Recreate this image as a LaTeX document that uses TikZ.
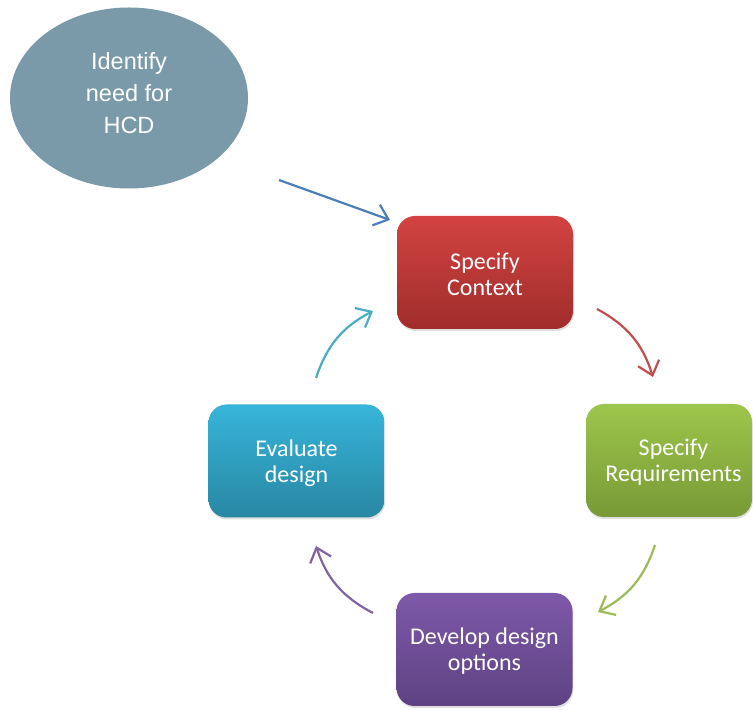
\documentclass[tikz,border=0pt]{standalone}
\usepackage{fontspec}
\setmainfont{Carlito}
\newfontfamily\arialfont{Liberation Sans}
\usetikzlibrary{arrows.meta,shadows,shapes.geometric}
\definecolor{ellc}{HTML}{7A9AAA}
\definecolor{redT}{HTML}{D24341}
\definecolor{redB}{HTML}{A02D2B}
\definecolor{grnT}{HTML}{9EC64B}
\definecolor{grnB}{HTML}{789936}
\definecolor{purT}{HTML}{7E59A9}
\definecolor{purB}{HTML}{5E4283}
\definecolor{cyaT}{HTML}{37B5DA}
\definecolor{cyaB}{HTML}{2887A3}
\definecolor{arBlue}{HTML}{4A7EBB}
\definecolor{arRed}{HTML}{C0504D}
\definecolor{arGrn}{HTML}{9BBB59}
\definecolor{arPur}{HTML}{8064A2}
\definecolor{arCya}{HTML}{4BACC6}
\tikzset{
  stepbox/.style={rounded corners=18pt, minimum height=113pt, text=white, align=center,
    font=\fontsize{24}{26}\selectfont, inner sep=0pt,
    drop shadow={opacity=0.25, shadow xshift=0.8pt, shadow yshift=-2pt}},
  boxtext/.style={text=white, align=center, font=\fontsize{24}{26}\selectfont, yshift=-2pt},
  flow/.style={line width=2.2pt, -{Straight Barb[length=13pt,width=22pt,line width=2.2pt]}}
}
\begin{document}
\begin{tikzpicture}[x=1pt,y=1pt]
\useasboundingbox (0,0) rectangle (753,710);
\node[ellipse, fill=ellc, minimum width=238pt, minimum height=181pt, inner sep=0pt,
  label={[text=white, align=center, font=\arialfont\fontsize{23.5}{32}\selectfont, yshift=5pt]center:Identify\\need for\\HCD}]
  (need) at (129,612) {};
\node[stepbox, minimum width=176pt, top color=redT, bottom color=redB,
  label={[boxtext]center:Specify\\Context}] (sc) at (485,437.5) {};
\node[stepbox, minimum width=166pt, top color=grnT, bottom color=grnB,
  label={[boxtext, xshift=4.5pt]center:Specify\\Requirements}] (sr) at (669,249.5) {};
\node[stepbox, minimum width=176pt, top color=purT, bottom color=purB,
  label={[boxtext]center:Develop design\\options}] (dd) at (484.5,60.5) {};
\node[stepbox, minimum width=176pt, top color=cyaT, bottom color=cyaB,
  label={[boxtext]center:Evaluate\\design}] (ed) at (296.5,249) {};
\coordinate (b1) at (279,530);
\coordinate (b2) at (390,490);
\coordinate (r1) at (597,401);
\coordinate (r2) at (653,333);
\coordinate (g1) at (655,165);
\coordinate (g2) at (598,98);
\coordinate (p1) at (373,97);
\coordinate (p2) at (316,164);
\coordinate (c1) at (316,332);
\coordinate (c2) at (373,399);
\draw[flow, arBlue] (b1) -- (b2);
\draw[flow, arRed] (r1) to[bend left=22] (r2);
\draw[flow, arGrn] (g1) to[bend left=22] (g2);
\draw[flow, arPur] (p1) to[bend left=22] (p2);
\draw[flow, arCya] (c1) to[bend left=22] (c2);
\end{tikzpicture}
\end{document}
